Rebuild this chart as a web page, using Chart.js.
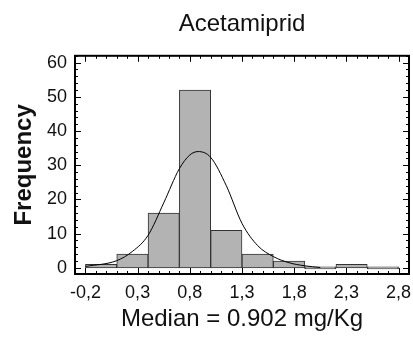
<!DOCTYPE html>
<html>
<head>
<meta charset="utf-8">
<script src="https://cdn.jsdelivr.net/npm/chart.js@4.4.1/dist/chart.umd.min.js"></script>
<style>
  html, body { margin: 0; padding: 0; background: #fff; }
  #wrap { width: 413px; height: 340px; }
</style>
</head>
<body>
<div id="wrap"><canvas id="histo"></canvas></div>
<script>
// Histogram bins (centres, width 0.3) and counts
const binCenters = [-0.05, 0.25, 0.55, 0.85, 1.15, 1.45, 1.75, 2.05, 2.35, 2.65];
const binCounts = [1, 4, 16, 52, 11, 4, 2, 0, 1, 0];

// Fitted normal curve
const curveX = [-0.2, 0.1, 0.25, 0.4, 0.55, 0.7, 0.8, 0.88, 1.0, 1.15, 1.3, 1.45, 1.6, 1.75, 1.9, 2.05];
const curveY = [0.4, 2.1, 4.8, 9.5, 19, 29, 33, 34, 32.3, 24, 13, 6.5, 3.3, 1.5, 0.6, 0.1];

// Axis ticks
const xTickValues = [-0.2, 0.3, 0.8, 1.3, 1.8, 2.3, 2.8];
const yTickValues = [0, 10, 20, 30, 40, 50, 60];

const fontFamily = "Arial, 'Liberation Sans', sans-serif";

// Draws the boxed frame with inward ticks on all four sides
const frameTicks = {
  id: 'frameTicks',
  afterDatasetsDraw(chart) {
    const ctx = chart.ctx;
    const area = chart.chartArea;
    const xs = chart.scales.x;
    const ys = chart.scales.y;
    ctx.save();
    ctx.strokeStyle = '#000';
    ctx.lineWidth = 1;
    ctx.beginPath();
    // minor x ticks every 0.1
    for (let v = -0.3; v <= 2.9 + 1e-9; v += 0.1) {
      const px = Math.round(xs.getPixelForValue(v)) + 0.5;
      const major = xTickValues.some(t => Math.abs(t - v) < 1e-6);
      const len = major ? 6 : 3;
      ctx.moveTo(px, area.bottom);
      ctx.lineTo(px, area.bottom - len);
      ctx.moveTo(px, area.top);
      ctx.lineTo(px, area.top + len);
    }
    // minor y ticks every 2
    for (let v = 0; v <= 62; v += 2) {
      const py = Math.round(ys.getPixelForValue(v)) + 0.5;
      const len = v % 10 === 0 ? 6 : 3;
      ctx.moveTo(area.left, py);
      ctx.lineTo(area.left + len, py);
      ctx.moveTo(area.right, py);
      ctx.lineTo(area.right - len, py);
    }
    ctx.stroke();
    ctx.lineWidth = 2;
    ctx.strokeRect(area.left, area.top, area.right - area.left, area.bottom - area.top);
    ctx.restore();
  }
};

const ctx = document.getElementById('histo').getContext('2d');

const histoChart = new Chart(ctx, {
  type: 'bar',
  data: {
    datasets: [
      {
        type: 'line',
        data: curveX.map((x, i) => ({ x: x, y: curveY[i] })),
        borderColor: '#000',
        borderWidth: 1,
        pointRadius: 0,
        cubicInterpolationMode: 'monotone',
        fill: false,
        order: 0
      },
      {
        type: 'bar',
        data: binCenters.map((x, i) => ({ x: x, y: binCounts[i] })),
        backgroundColor: '#b3b3b3',
        borderColor: '#333',
        borderWidth: 1,
        borderSkipped: false,
        barPercentage: 1,
        categoryPercentage: 1,
        minBarLength: 2,
        order: 1
      }
    ]
  },
  options: {
    responsive: true,
    maintainAspectRatio: false,
    animation: false,
    layout: {
      padding: { left: 0, right: 4, top: 0, bottom: 0 }
    },
    scales: {
      x: {
        type: 'linear',
        min: -0.3,
        max: 2.9,
        offset: false,
        grid: { display: false, offset: false },
        border: { display: false },
        afterBuildTicks: function (scale) {
          scale.ticks = xTickValues.map(v => ({ value: v }));
        },
        afterFit: function (scale) {
          scale.height = 66;
        },
        ticks: {
          padding: 0,
          maxRotation: 0,
          autoSkip: false,
          color: '#111',
          font: { family: fontFamily, size: 18 },
          callback: function (value) {
            return value.toFixed(1).replace('.', ',');
          }
        },
        title: {
          display: true,
          text: 'Median = 0.902 mg/Kg',
          color: '#111',
          font: { family: fontFamily, size: 24 },
          padding: { top: 0, bottom: 6 }
        }
      },
      y: {
        min: -1.8,
        max: 62,
        grid: { display: false },
        border: { display: false },
        afterBuildTicks: function (scale) {
          scale.ticks = yTickValues.map(v => ({ value: v }));
        },
        afterFit: function (scale) {
          scale.width = 75;
        },
        ticks: {
          padding: 0,
          color: '#111',
          font: { family: fontFamily, size: 18 }
        },
        title: {
          display: true,
          text: 'Frequency',
          color: '#111',
          font: { family: fontFamily, size: 24, weight: 'bold' },
          padding: { top: 10, bottom: 0 }
        }
      }
    },
    plugins: {
      legend: { display: false },
      tooltip: { enabled: false },
      title: {
        display: true,
        fullSize: false,
        text: 'Acetamiprid',
        color: '#111',
        font: { family: fontFamily, size: 24, weight: 'normal' },
        padding: { top: 10, bottom: 17 }
      }
    }
  },
  plugins: [frameTicks]
});
</script>
</body>
</html>
